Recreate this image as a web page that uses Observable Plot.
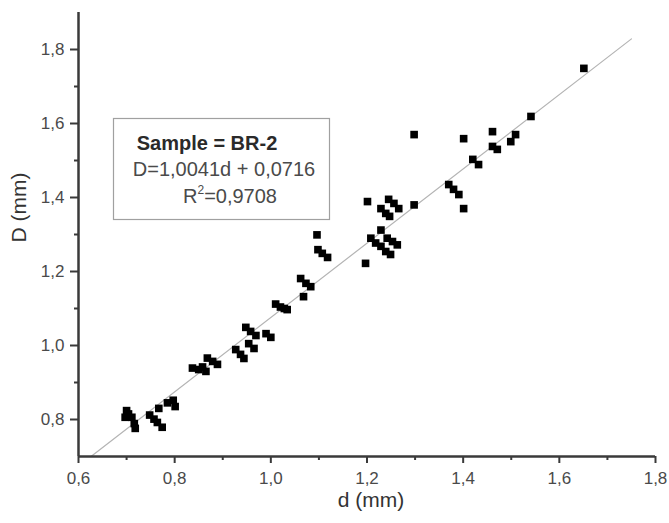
<!DOCTYPE html>
<html>
<head>
<meta charset="utf-8">
<script src="https://cdn.jsdelivr.net/npm/d3@7"></script>
<script src="https://cdn.jsdelivr.net/npm/@observablehq/plot@0.6"></script>
<style>
html, body { margin: 0; padding: 0; background: #fff; }
#wrap { position: relative; width: 669px; height: 523px; font-family: "Liberation Sans", Arial, sans-serif; }
#legend { position: absolute; left: 0; top: 0; pointer-events: none; }
</style>
</head>
<body>
<div id="wrap"></div>
<script>
// Measured grain sizes: d (x) and D (y), in mm
const dValues = [
  0.700, 0.697, 0.704, 0.711, 0.716, 0.718,
  0.748, 0.757, 0.764, 0.774, 0.767, 0.785, 0.797, 0.801,
  0.837, 0.850, 0.858, 0.865, 0.868, 0.879, 0.889,
  0.927, 0.937, 0.944, 0.954, 0.965, 0.948, 0.958, 0.969, 0.990, 1.000,
  1.010, 1.020, 1.028, 1.034,
  1.062, 1.073, 1.083, 1.068,
  1.096, 1.098, 1.107, 1.118,
  1.197,
  1.201, 1.229, 1.239, 1.247, 1.245, 1.256, 1.266, 1.298,
  1.229, 1.208, 1.218, 1.229, 1.239, 1.249, 1.242, 1.253, 1.263,
  1.370, 1.380, 1.391, 1.401,
  1.298, 1.401, 1.461, 1.509, 1.499, 1.461, 1.471, 1.541, 1.420, 1.432, 1.651
];
const DValues = [
  0.824, 0.806, 0.815, 0.806, 0.789, 0.776,
  0.812, 0.801, 0.792, 0.779, 0.830, 0.845, 0.852, 0.835,
  0.939, 0.935, 0.942, 0.930, 0.966, 0.957, 0.949,
  0.989, 0.976, 0.965, 1.005, 0.992, 1.049, 1.038, 1.027, 1.032, 1.022,
  1.112, 1.104, 1.100, 1.097,
  1.181, 1.168, 1.159, 1.132,
  1.299, 1.259, 1.249, 1.238,
  1.222,
  1.389, 1.370, 1.357, 1.349, 1.395, 1.384, 1.370, 1.380,
  1.312, 1.290, 1.277, 1.268, 1.254, 1.246, 1.290, 1.281, 1.272,
  1.435, 1.422, 1.408, 1.370,
  1.570, 1.559, 1.578, 1.570, 1.551, 1.538, 1.530, 1.619, 1.503, 1.489, 1.749
];

// Linear fit shown in the annotation
const fitSlope = 1.0041;
const fitIntercept = 0.0716;
const fitRange = [0.626, 1.75];

// Axis ticks
const xTicks = [0.6, 0.8, 1.0, 1.2, 1.4, 1.6, 1.8];
const xMinorTicks = [0.7, 0.9, 1.1, 1.3, 1.5, 1.7];
const yTicks = [0.8, 1.0, 1.2, 1.4, 1.6, 1.8];
const yMinorTicks = [0.9, 1.1, 1.3, 1.5, 1.7];

// Texts
const xLabel = "d (mm)";
const yLabel = "D (mm)";
const legendTitle = "Sample = BR-2";
const legendEquation = "D=1,0041d + 0,0716";
const legendR2 = "=0,9708";

const fmt = v => v.toFixed(1).replace(".", ",");
const points = dValues.map((d, i) => ({d, D: DValues[i]}));
const fit = fitRange.map(d => ({d, D: fitSlope * d + fitIntercept}));

const axisColor = "#3a3a3a";
const labelColor = "#4a4a4a";

const chart = Plot.plot({
  width: 669,
  height: 523,
  marginLeft: 78,
  marginRight: 14,
  marginTop: 12,
  marginBottom: 67,
  x: {domain: [0.6, 1.8], label: null},
  y: {domain: [0.7, 1.9], label: null},
  style: {fontFamily: "'Liberation Sans', Arial, sans-serif", background: "#fff", overflow: "visible"},
  marks: [
    Plot.line(fit, {x: "d", y: "D", stroke: "#b4b4b4", strokeWidth: 1.2}),
    Plot.dot(points, {x: "d", y: "D", symbol: "square", r: 4.3, fill: "#000", stroke: null}),
    Plot.axisX({ticks: xMinorTicks, tickSize: 4, tickFormat: () => "", stroke: axisColor, strokeWidth: 2, label: null}),
    Plot.axisX({ticks: xTicks, tickSize: 7, tickPadding: 8, tickFormat: fmt, stroke: axisColor, strokeWidth: 2, fontSize: 17, fill: labelColor, label: null}),
    Plot.axisY({ticks: yMinorTicks, tickSize: 4, tickFormat: () => "", stroke: axisColor, strokeWidth: 2, label: null}),
    Plot.axisY({ticks: yTicks, tickSize: 8, tickPadding: 6, tickFormat: fmt, stroke: axisColor, strokeWidth: 2, fontSize: 17, fill: labelColor, label: null}),
    Plot.ruleX([0.6], {stroke: axisColor, strokeWidth: 2.5}),
    Plot.ruleY([0.7], {stroke: axisColor, strokeWidth: 2.5}),
    Plot.text([xLabel], {frameAnchor: "bottom", dx: 4, dy: 50, fontSize: 21, fill: "#333"}),
    Plot.text([yLabel], {frameAnchor: "left", dx: -59, dy: 8, rotate: -90, fontSize: 21, fill: "#333"})
  ]
});

const wrap = document.getElementById("wrap");
wrap.appendChild(chart);

// Annotation box
const svg = d3.select(wrap).append("svg")
  .attr("id", "legend")
  .attr("width", 669)
  .attr("height", 523)
  .style("font-family", "'Liberation Sans', Arial, sans-serif");
svg.append("rect")
  .attr("x", 113.5).attr("y", 118.5).attr("width", 216).attr("height", 101)
  .attr("fill", "#fff").attr("stroke", "#a0a0a0").attr("stroke-width", 1.2);
svg.append("text")
  .attr("x", 207).attr("y", 150).attr("text-anchor", "middle")
  .attr("font-size", 20).attr("font-weight", "bold").attr("fill", "#2a2a2a")
  .text(legendTitle);
svg.append("text")
  .attr("x", 224).attr("y", 176).attr("text-anchor", "middle")
  .attr("font-size", 20).attr("fill", "#4a4a4a")
  .text(legendEquation);
const r2 = svg.append("text")
  .attr("x", 230).attr("y", 203).attr("text-anchor", "middle")
  .attr("font-size", 20).attr("fill", "#4a4a4a");
r2.append("tspan").text("R");
r2.append("tspan").attr("font-size", 12).attr("dy", -9).text("2");
r2.append("tspan").attr("dy", 9).text(legendR2);
</script>
</body>
</html>
